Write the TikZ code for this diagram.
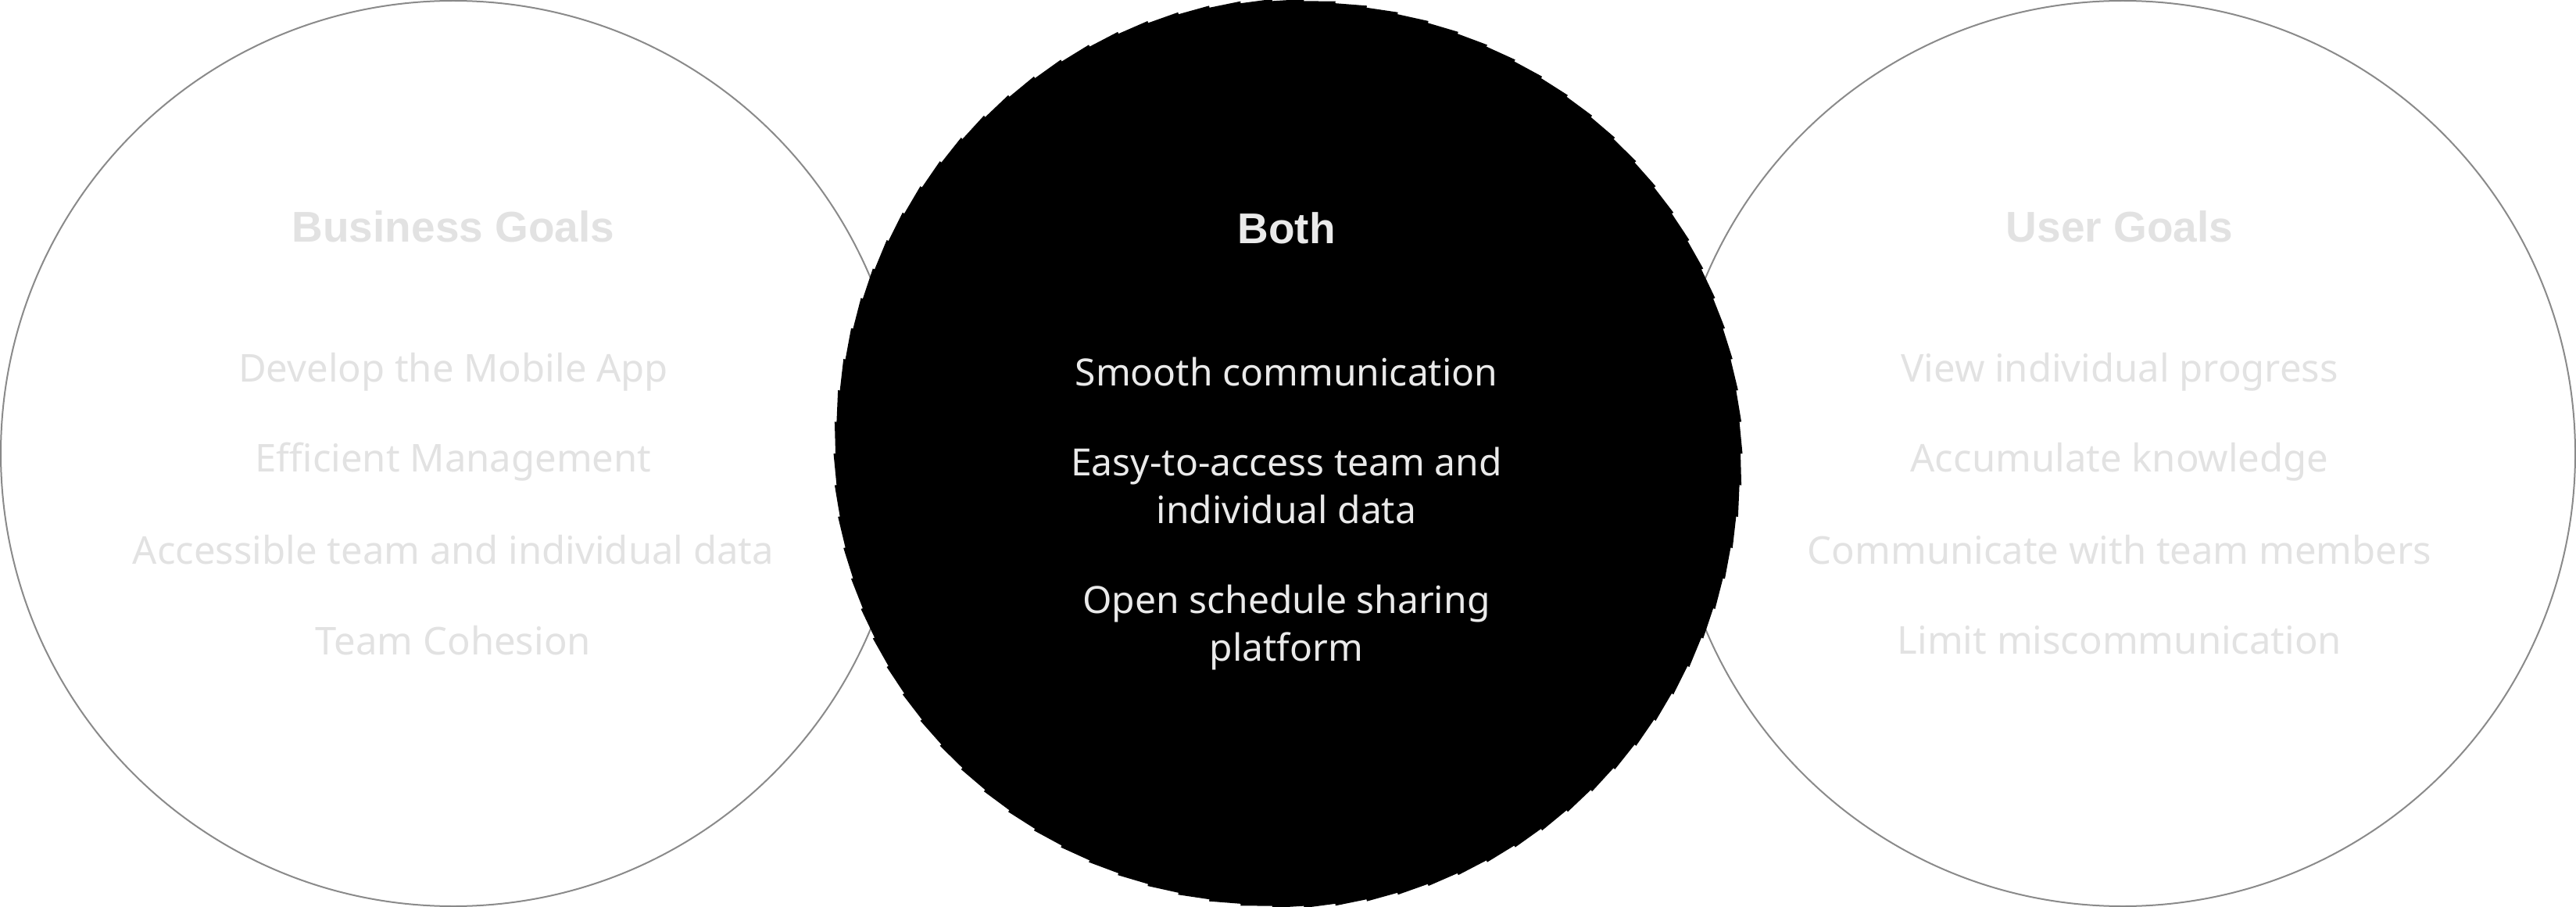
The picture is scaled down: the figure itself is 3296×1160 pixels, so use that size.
\documentclass[tikz,border=0pt]{standalone}
\usepackage{fontspec}
\setmainfont{Noto Sans}
\newfontfamily\headfont{Liberation Sans}
\definecolor{ringgray}{HTML}{8A8A8A}
\definecolor{fadedgray}{HTML}{E2E2E2}
\definecolor{softwhite}{HTML}{EAEAEA}
\begin{document}
\begin{tikzpicture}[x=0.5pt,y=-0.5pt,
  goalring/.style={circle, draw=ringgray, line width=1pt, minimum size=579pt, inner sep=0pt},
  heading/.style={font=\headfont\fontsize{27.5}{33}\selectfont\bfseries},
  sideitem/.style={text=fadedgray, font=\fontsize{24.5}{30}\selectfont},
  centeritem/.style={text=softwhite, align=center, font=\fontsize{24}{30.5}\selectfont}]
  \useasboundingbox (0,0) rectangle (3296,1160);

  % outer goal rings
  \node[goalring] (bizring) at (580,580) {};
  \node[goalring] (userring) at (2716,580) {};

  % shared disc with a finely stepped rim
  \begin{scope}[shift={(1648,580)}]
    \fill[black] (0:579) \foreach \a [evaluate=\a as \b using \a+4] in {0,4,...,356} { -- (\b:581.5) -- (\b:579) } -- cycle;
  \end{scope}

  % business goals
  \node[heading, text=fadedgray] (biztitle) at (580,290) {Business Goals};
  \node[sideitem] (biz1) at (580,476) {Develop the Mobile App};
  \node[sideitem] (biz2) at (580,591) {Efficient Management};
  \node[sideitem] (biz3) at (580,703) {Accessible team and individual data};
  \node[sideitem] (biz4) at (580,819) {Team Cohesion};

  % user goals
  \node[heading, text=fadedgray] (usertitle) at (2712,290) {User Goals};
  \node[sideitem] (user1) at (2712,476) {View individual progress};
  \node[sideitem] (user2) at (2712,591) {Accumulate knowledge};
  \node[sideitem] (user3) at (2712,703) {Communicate with team members};
  \node[sideitem] (user4) at (2712,819) {Limit miscommunication};

  % shared goals
  \node[heading, text=softwhite] (bothtitle) at (1646,292) {Both};
  \node[centeritem] (both1) at (1646,475) {Smooth communication};
  \node[centeritem] (both2) at (1646,621) {Easy-to-access team and\\individual data};
  \node[centeritem] (both3) at (1646,803) {Open schedule sharing\\platform};
\end{tikzpicture}
\end{document}
